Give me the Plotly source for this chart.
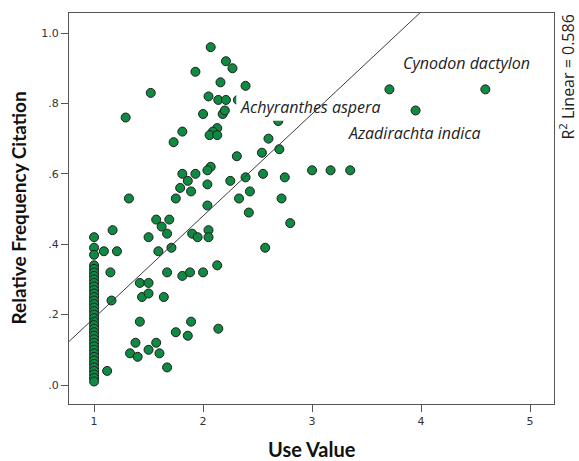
import plotly.graph_objects as go

# Use Value (UV) and Relative Frequency of Citation (RFC) per species
use_value = [
    2.07, 2.21, 2.27, 1.93, 2.16, 2.39, 1.52, 2.05, 2.14, 2.21, 2.32,
    1.29, 2.00, 2.18, 2.20, 2.69, 1.81, 2.13, 2.09, 2.06, 2.13, 1.73,
    2.60, 2.70, 2.54, 2.31, 2.07, 2.04, 1.81, 1.93, 3.00, 3.17, 3.35,
    1.86, 2.04, 2.25, 2.39, 2.55, 2.75, 1.79, 1.89, 2.43, 1.32, 1.75,
    2.33, 2.72, 2.04, 2.42, 1.57, 1.69, 2.80, 1.62, 1.17, 2.05, 1.67,
    1.90, 1.50, 1.95, 2.05, 1.09, 1.21, 1.59, 1.71, 2.57, 2.13, 1.15,
    1.67, 1.81, 1.88, 2.00, 1.42, 1.50, 1.44, 1.50, 1.64, 1.16, 1.42,
    1.89, 2.14, 1.75, 1.86, 1.38, 1.57, 1.33, 1.40, 1.50, 1.60, 1.67,
    1.12, 3.71, 3.95, 4.59,
]
rfc = [
    0.96, 0.92, 0.90, 0.89, 0.86, 0.85, 0.83, 0.82, 0.81, 0.81, 0.81,
    0.76, 0.77, 0.77, 0.78, 0.75, 0.72, 0.73, 0.72, 0.71, 0.71, 0.69,
    0.70, 0.67, 0.66, 0.65, 0.62, 0.61, 0.60, 0.60, 0.61, 0.61, 0.61,
    0.58, 0.57, 0.58, 0.59, 0.60, 0.59, 0.56, 0.55, 0.55, 0.53, 0.53,
    0.53, 0.53, 0.51, 0.49, 0.47, 0.47, 0.46, 0.45, 0.44, 0.44, 0.43,
    0.43, 0.42, 0.42, 0.42, 0.38, 0.38, 0.38, 0.39, 0.39, 0.34, 0.32,
    0.32, 0.31, 0.32, 0.32, 0.29, 0.29, 0.25, 0.26, 0.25, 0.24, 0.18,
    0.18, 0.16, 0.15, 0.14, 0.12, 0.12, 0.09, 0.08, 0.10, 0.09, 0.05,
    0.04, 0.84, 0.78, 0.84,
]
# species cited for a single use (UV = 1)
single_use_rfc = [
    0.42, 0.39, 0.37, 0.34, 0.33, 0.32, 0.31, 0.30, 0.29, 0.28, 0.27,
    0.26, 0.25, 0.24, 0.23, 0.22, 0.21, 0.20, 0.19, 0.18, 0.17, 0.16,
    0.15, 0.14, 0.13, 0.12, 0.11, 0.10, 0.09, 0.08, 0.07, 0.06, 0.05,
    0.04, 0.03, 0.02, 0.01,
]

# linear fit RFC = intercept + slope * UV
fit_intercept = -0.0997
fit_slope = 0.29
r_squared = 0.586

species_labels = ["Cynodon dactylon", "Achyranthes aspera", "Azadirachta indica"]
label_pos = [(4.42, 0.915), (2.977, 0.79), (3.94, 0.716)]

x_tickvals = [1, 2, 3, 4, 5]
y_tickvals = [0.0, 0.2, 0.4, 0.6, 0.8, 1.0]
y_ticktext = [".0", ".2", ".4", ".6", ".8", "1.0"]

x_range = [0.77, 5.22]
y_range = [-0.054, 1.057]

xs = [1.0] * len(single_use_rfc) + use_value
ys = single_use_rfc + rfc

fig = go.Figure()

fig.add_trace(go.Scatter(
    x=xs, y=ys, mode="markers",
    marker=dict(size=9, color="#0f8a43", line=dict(color="#1e1e1e", width=1)),
    hoverinfo="x+y", showlegend=False,
))

# white backing behind the middle species label (drawn under the fit line)
lx, ly = label_pos[1]
half_w, half_h = 0.672, 0.039
fig.add_trace(go.Scatter(
    x=[lx - half_w, lx + half_w, lx + half_w, lx - half_w, lx - half_w],
    y=[ly - half_h, ly - half_h, ly + half_h, ly + half_h, ly - half_h],
    mode="lines", fill="toself", fillcolor="white",
    line=dict(color="rgba(0,0,0,0)", width=0),
    hoverinfo="skip", showlegend=False,
))

fit_x = list(x_range)
fit_y = [fit_intercept + fit_slope * v for v in fit_x]
fig.add_trace(go.Scatter(
    x=fit_x, y=fit_y, mode="lines",
    line=dict(color="#3c3c3c", width=1),
    hoverinfo="skip", showlegend=False,
))

annotations = []
for name, (ax, ay) in zip(species_labels, label_pos):
    annotations.append(dict(
        x=ax, y=ay, xref="x", yref="y", text=name, showarrow=False,
        font=dict(family="Open Sans", size=16, color="#222222", style="italic"),
        xanchor="center", yanchor="middle",
    ))

annotations.append(dict(
    x=0.5, y=0, xref="paper", yref="paper", text="<b>Use Value</b>",
    showarrow=False, yshift=-45, xanchor="center", yanchor="middle",
    font=dict(family="Lato", size=20, color="#111111"),
))
annotations.append(dict(
    x=0, y=0.5, xref="paper", yref="paper", text="<b>Relative Frequency Citation</b>",
    showarrow=False, xshift=-51, textangle=-90, xanchor="center", yanchor="middle",
    font=dict(family="Lato", size=19, color="#111111"),
))
annotations.append(dict(
    x=1, y=1, xref="paper", yref="paper",
    text=f"R<sup>2</sup> Linear = {r_squared:.3f}",
    showarrow=False, xshift=13, textangle=-90, xanchor="center", yanchor="top",
    font=dict(family="Open Sans", size=16, color="#222222"),
))

axis_common = dict(
    showline=True, mirror=True, linecolor="#555555", linewidth=1,
    ticks="outside", ticklen=7, tickcolor="#555555", tickwidth=1,
    showgrid=False, zeroline=False,
    tickfont=dict(family="DejaVu Sans", size=11, color="#333333"),
)

fig.update_layout(
    width=579, height=461,
    margin=dict(l=69, r=25, t=13, b=57),
    plot_bgcolor="white", paper_bgcolor="white",
    xaxis=dict(range=x_range, tickvals=x_tickvals, **axis_common),
    yaxis=dict(range=y_range, tickvals=y_tickvals, ticktext=y_ticktext, **axis_common),
    annotations=annotations,
    showlegend=False,
)

fig.write_html("out.html")
